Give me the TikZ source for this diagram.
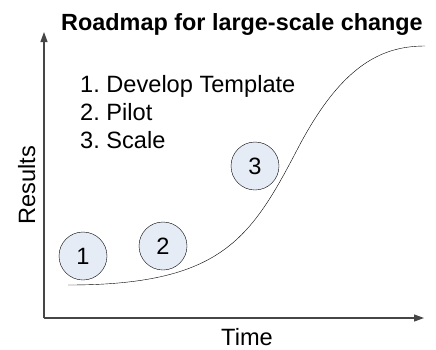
\documentclass[tikz,border=0pt]{standalone}
\usepackage{fontspec}
\setmainfont{Liberation Sans}
\usetikzlibrary{arrows.meta,positioning}
\definecolor{stagefill}{RGB}{230,236,246}
\definecolor{axisgray}{RGB}{70,70,70}
\frenchspacing

\begin{document}
\begin{tikzpicture}[y=-1pt,x=1pt,
	every node/.style={font=\fontsize{23.6}{28}\selectfont},
	stage/.style={circle, draw, thin, fill=stagefill, minimum size=48pt, inner sep=0pt},
	axis/.style={draw=axisgray, line width=1.2pt, -{Triangle[length=10pt,width=7pt]}}]
	\useasboundingbox (0,0) rectangle (436,349);

	% axes
	\coordinate (origin) at (44,318);
	\coordinate (ytop) at (44,32);
	\coordinate (xend) at (424,318);
	\draw[axis] (origin) -- (ytop);
	\draw[axis] (origin) -- (xend);

	% texts
	\node[anchor=base, font=\fontsize{23.4}{28}\selectfont\bfseries] (title) at (242,30) {Roadmap for large-scale change};
	\node[anchor=base west, inner sep=0pt] (item1) at (80,92) {1. Develop Template};
	\node[anchor=base west, inner sep=0pt] (item2) at (80,120) {2. Pilot};
	\node[anchor=base west, inner sep=0pt] (item3) at (80,148) {3. Scale};
	\node[anchor=base, rotate=90, inner sep=0pt] (results) at (35,185) {Results};
	\node[anchor=base, inner sep=0pt] (time) at (247,345) {Time};

	% curve
	\draw[thin] (68,285) .. controls (220,285) and (250,240) .. (297,150)
		.. controls (340,67) and (380,46) .. (425,46);

	% stages
	\node[stage] (s1) at (83,256) {1};
	\node[stage] (s2) at (163,246) {2};
	\node[stage] (s3) at (255,166) {3};
\end{tikzpicture}
\end{document}
